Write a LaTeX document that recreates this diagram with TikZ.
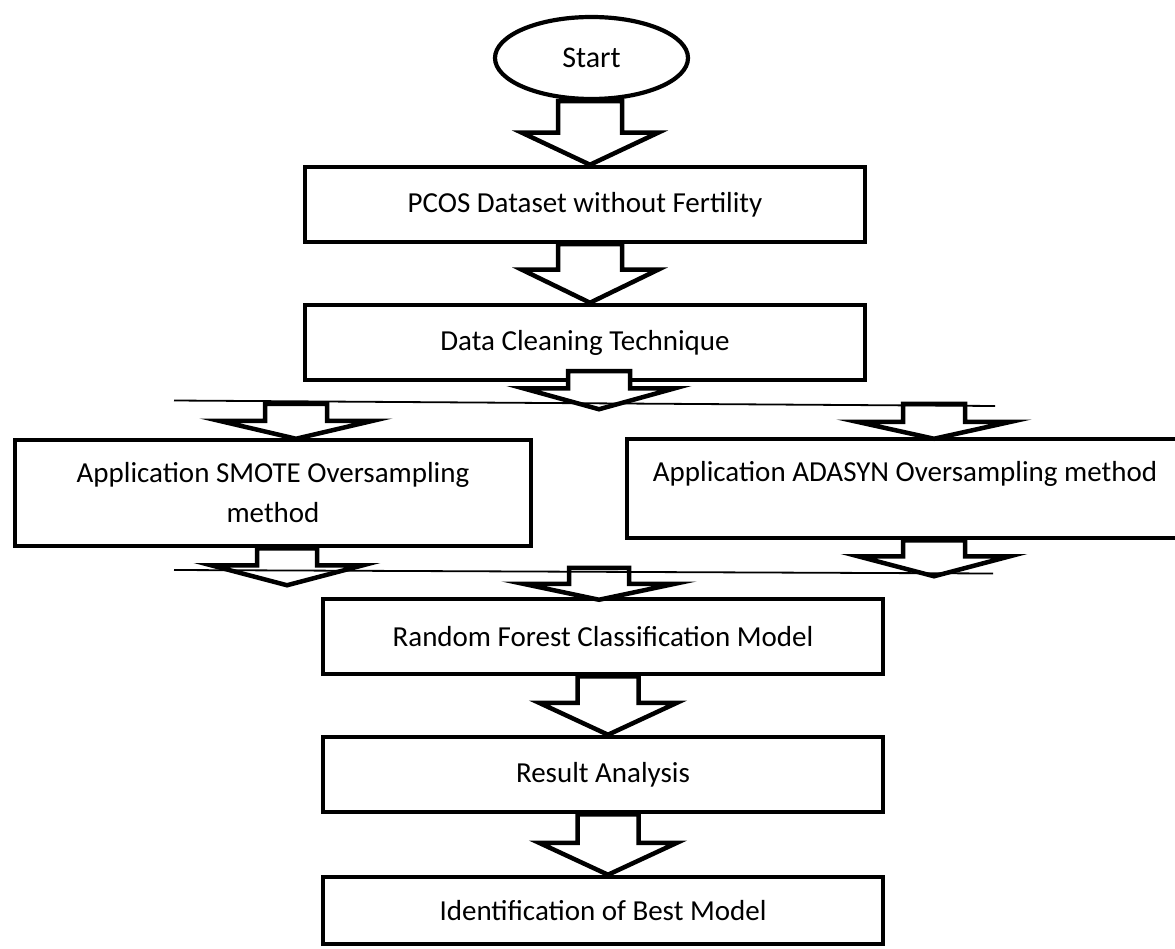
\documentclass[tikz,border=0pt]{standalone}
\usepackage{fontspec}
\setmainfont{Carlito}
\usetikzlibrary{shapes.geometric,calc}
\tikzset{
  box/.style={draw, line width=4.5pt, inner sep=0pt, minimum width=560pt, minimum height=75pt,
    font=\fontsize{29}{40}\selectfont, align=center},
  startshape/.style={draw, ellipse, line width=4.2pt, inner sep=0pt, minimum width=193pt,
    minimum height=82pt, font=\fontsize{30}{40}\selectfont},
  barrow/.style={draw, fill=white, line width=4.5pt, line join=miter, miter limit=20},
  thinline/.style={line width=1.8pt}
}
% #1 top coordinate, #2 tip coordinate, #3 shaft half width, #4 head half width, #5 head length
\newcommand\blockarrow[5]{%
  \draw[barrow] let \p1=#1, \p2=#2 in
    (\x2-#3pt,\y1) -- (\x2-#3pt,\y2+#5pt) -- (\x2-#4pt,\y2+#5pt) -- (\x2,\y2)
    -- (\x2+#4pt,\y2+#5pt) -- (\x2+#3pt,\y2+#5pt) -- (\x2+#3pt,\y1) -- cycle;}
\begin{document}
\begin{tikzpicture}[x=1pt, y=-1pt]
\useasboundingbox (0,0) rectangle (1175,949);
\fill[white] (0,0) rectangle (1175,949);
\clip (0,0) rectangle (1175,949);

\node[startshape] (start) at (591.5,58) {Start};
\node[box] (pcos) at (585,204.5) {PCOS Dataset without Fertility};
\node[box] (clean) at (585,342.5) {Data Cleaning Technique};
\node[box, minimum width=516pt, minimum height=106pt] (smote) at (273,493)
  {Application SMOTE Oversampling\\method};
\node[box, minimum width=556pt, minimum height=99pt, text depth=34pt] (adasyn) at (905,488.5)
  {Application ADASYN Oversampling method};
\node[box] (rf) at (603,636.5) {Random Forest Classification Model};
\node[box] (result) at (603,774.5) {Result Analysis};
\node[box, minimum height=67pt] (best) at (603,910.5) {Identification of Best Model};

\coordinate (sl) at (174,400.5);
\coordinate (sr) at (995,406);
\coordinate (ml) at (174,570);
\coordinate (mr) at (993,573.5);

\blockarrow{(start.south)}{($(start.south |- pcos.north)+(-1.5,0)$)}{32}{68}{32}
\blockarrow{(pcos.south)}{($(pcos.south |- clean.north)+(5,0)$)}{32}{68}{33}
\blockarrow{($(clean.south)+(0,-11)$)}{($(clean.south)+(14,27)$)}{31}{76}{21}
\blockarrow{($(smote.north)+(0,-34)$)}{($(smote.north)+(23,1)$)}{31}{77}{18}
\blockarrow{($(adasyn.north)+(0,-33)$)}{($(adasyn.north)+(29,2)$)}{31}{77}{17}
\blockarrow{(smote.south)}{($(smote.south)+(14,37)$)}{30}{76}{20}
\blockarrow{(adasyn.south)}{($(adasyn.south)+(29,36)$)}{31}{76}{20}
\blockarrow{($(rf.north)+(0,-29)$)}{($(rf.north)+(-4,3)$)}{30}{76}{16}
\blockarrow{(rf.south)}{($(result.north)+(5,0)$)}{30.5}{69}{32}
\blockarrow{(result.south)}{($(best.north)+(5,0)$)}{30.5}{69}{32}

\draw[thinline] (sl) -- (sr);
\draw[thinline] (ml) -- (mr);
\end{tikzpicture}
\end{document}
